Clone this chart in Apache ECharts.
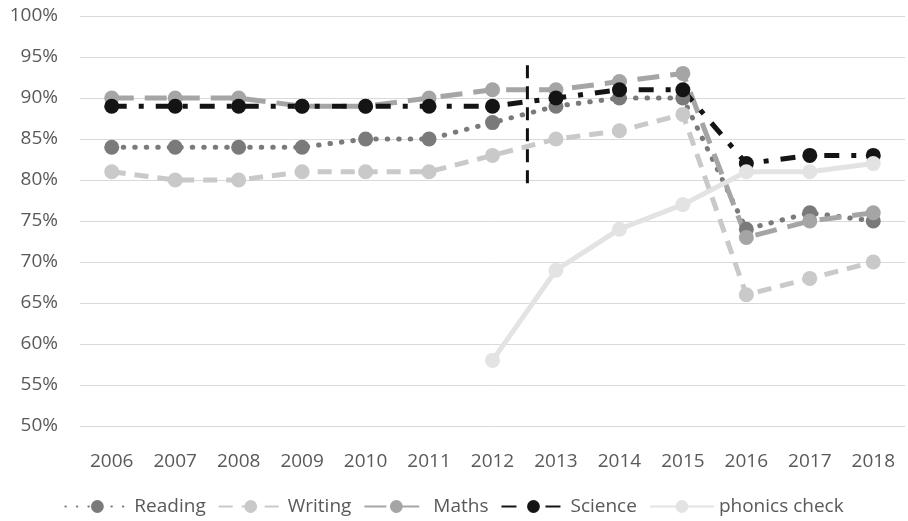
<!DOCTYPE html>
<html>
<head>
<meta charset="utf-8">
<script src="https://cdn.jsdelivr.net/npm/echarts@6/dist/echarts.min.js"></script>
<style>
  html, body { margin: 0; padding: 0; background: #fff; }
  #chart { width: 908px; height: 521px; }
</style>
</head>
<body>
<div id="chart"></div>
<script>
// years along the bottom
var years = ['2006', '2007', '2008', '2009', '2010', '2011', '2012', '2013', '2014', '2015', '2016', '2017', '2018'];
// percentages
var reading = [84, 84, 84, 84, 85, 85, 87, 89, 90, 90, 74, 76, 75];
var writing = [81, 80, 80, 81, 81, 81, 83, 85, 86, 88, 66, 68, 70];
var maths = [90, 90, 90, 89, 89, 90, 91, 91, 92, 93, 73, 75, 76];
var science = [89, 89, 89, 89, 89, 89, 89, 90, 91, 91, 82, 83, 83];
var phonics = [null, null, null, null, null, null, 58, 69, 74, 77, 81, 81, 82];
// vertical divider between 2012 and 2013 (category index, value)
var divider = [[6.55, 94], [6.55, 79]];

var font = '"Open Sans", "Liberation Sans", sans-serif';
var chart = echarts.init(document.getElementById('chart'));

function lineSeries(name, data, color, dash, cap) {
  return {
    name: name,
    type: 'line',
    data: data,
    symbol: 'circle',
    symbolSize: 15,
    connectNulls: false,
    itemStyle: { color: color },
    lineStyle: { color: color, width: 5, type: dash, cap: cap || 'butt' },
    emphasis: { disabled: true }
  };
}

var option = {
  animation: false,
  grid: { left: 80, right: 3, top: 16, bottom: 95 },
  legend: {
    data: ['Reading', 'Writing', 'Maths', 'Science', 'phonics check'],
    bottom: 0,
    left: 'center',
    itemWidth: 64,
    itemHeight: 16,
    itemGap: 12,
    textStyle: { color: '#595959', fontSize: 19, fontFamily: font }
  },
  xAxis: [
    {
      type: 'category',
      data: years,
      boundaryGap: true,
      axisLine: { show: false },
      axisTick: { show: false },
      axisLabel: { color: '#595959', fontSize: 19, fontFamily: font, margin: 26 }
    },
    { type: 'value', min: -0.5, max: 12.5, show: false }
  ],
  yAxis: {
    type: 'value',
    min: 50,
    max: 100,
    interval: 5,
    axisLine: { show: false },
    axisTick: { show: false },
    splitLine: { lineStyle: { color: '#d9d9d9', width: 1 } },
    axisLabel: {
      color: '#595959', fontSize: 19, fontFamily: font, margin: 22,
      formatter: function (v) { return v + '%'; }
    }
  },
  series: [
    lineSeries('Reading', reading, '#7a7a7a', [0.5, 11], 'round'),
    lineSeries('Writing', writing, '#c9c9c9', [14, 9]),
    lineSeries('Maths', maths, '#a5a5a5', [22, 11]),
    lineSeries('Science', science, '#141414', [15, 12, 5, 12]),
    lineSeries('phonics check', phonics, '#e3e3e3', 'solid'),
    {
      name: 'divider',
      type: 'line',
      xAxisIndex: 1,
      data: divider,
      symbol: 'none',
      silent: true,
      lineStyle: { color: '#111', width: 3, type: [13, 8] }
    }
  ]
};
chart.setOption(option);
</script>
</body>
</html>
